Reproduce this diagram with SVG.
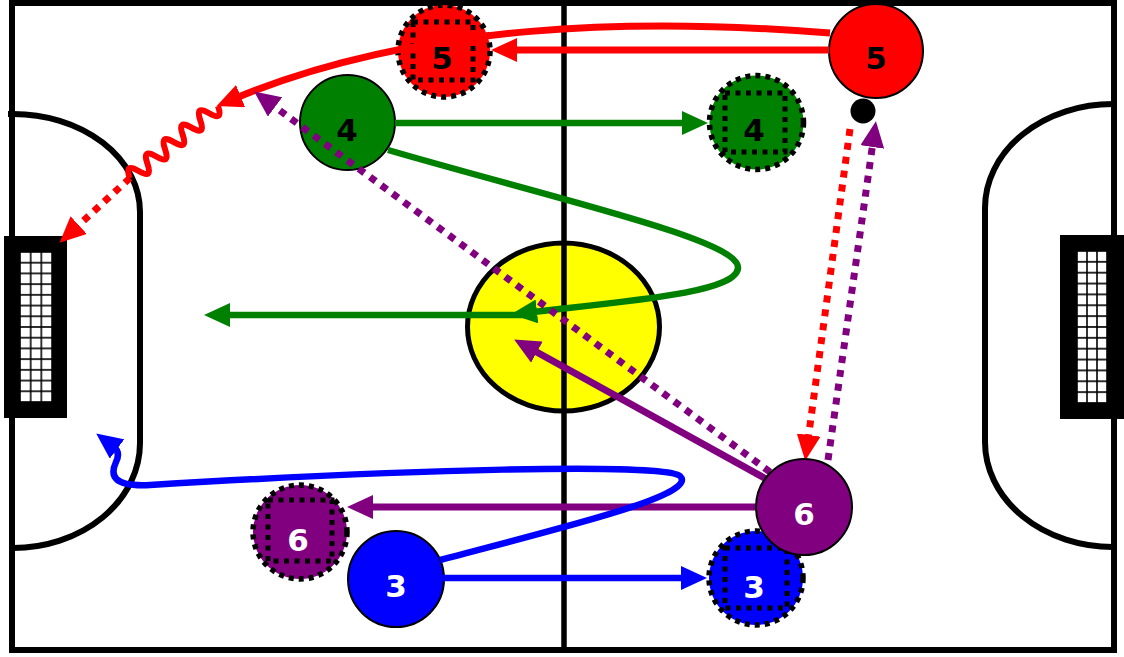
<svg xmlns="http://www.w3.org/2000/svg" width="1124" height="657" viewBox="0 0 1124 657">
<style>
.fl{fill:none;stroke:#000;stroke-width:6}
.lbl{font-family:"DejaVu Sans",sans-serif;font-weight:bold;font-size:31px;text-anchor:middle}
.dk{fill:#000}.wt{fill:#fff}
.solid{stroke:#000;stroke-width:2}
.ring{stroke:#000;stroke-width:5.5;stroke-dasharray:5 5}
.sq{fill:none;stroke:#000;stroke-width:5;stroke-dasharray:5 5.5}
.c{fill:none;stroke-linecap:butt}
.dot{stroke-dasharray:7 7}
</style>
<defs>
<marker id="ah-red" markerUnits="userSpaceOnUse" markerWidth="26" markerHeight="24" viewBox="0 0 26 24" refX="5" refY="12" orient="auto"><path d="M0,0 L26,12 L0,24 z" fill="#ff0000"/></marker>
<marker id="ah-green" markerUnits="userSpaceOnUse" markerWidth="26" markerHeight="24" viewBox="0 0 26 24" refX="5" refY="12" orient="auto"><path d="M0,0 L26,12 L0,24 z" fill="#008000"/></marker>
<marker id="ah-purple" markerUnits="userSpaceOnUse" markerWidth="26" markerHeight="24" viewBox="0 0 26 24" refX="5" refY="12" orient="auto"><path d="M0,0 L26,12 L0,24 z" fill="#800080"/></marker>
<marker id="ah-blue" markerUnits="userSpaceOnUse" markerWidth="26" markerHeight="24" viewBox="0 0 26 24" refX="5" refY="12" orient="auto"><path d="M0,0 L26,12 L0,24 z" fill="#0000ff"/></marker>
<pattern id="netL" patternUnits="userSpaceOnUse" x="20" y="252" width="10.667" height="10.714"><rect width="10.667" height="10.714" fill="#000"/><rect x="0.8" y="0.8" width="9.1" height="9.1" fill="#fff"/></pattern>
<pattern id="netR" patternUnits="userSpaceOnUse" x="1077" y="251" width="10" height="10.857"><rect width="10" height="10.857" fill="#000"/><rect x="0.8" y="0.8" width="8.4" height="9.2" fill="#fff"/></pattern>
</defs>
<rect width="1124" height="657" fill="#fff"/>
<g id="field">
<rect x="12" y="3" width="1102" height="647" class="fl"/>
<ellipse cx="563.5" cy="327" rx="96" ry="84" fill="#ffff00" stroke="#000" stroke-width="5"/>
<line x1="564" y1="3" x2="564" y2="650" stroke="#000" stroke-width="5.5"/>
<path class="fl" d="M8,114 L13,114 A127,98 0 0 1 140,212 L140,443 A127,105 0 0 1 13,548"/>
<path class="fl" d="M1113,104 A128,104 0 0 0 985,208 L985,442 A128,105 0 0 0 1113,547"/>
<rect x="4" y="236" width="63" height="182" fill="#000"/>
<rect x="20" y="252" width="32" height="150" fill="url(#netL)"/>
<rect x="1060" y="235" width="64" height="184" fill="#000"/>
<rect x="1077" y="251" width="30" height="152" fill="url(#netR)"/>
</g>
<g id="node-5b"><circle cx="444" cy="51" r="46" fill="#ff0000" class="ring"/><rect x="413" y="22" width="60" height="58" class="sq"/><text x="442" y="69" class="lbl dk">5</text></g>
<g id="node-4b"><circle cx="756.5" cy="122.5" r="47" fill="#008000" class="ring"/><rect x="725" y="93" width="60" height="59" class="sq"/><text x="754" y="141" class="lbl dk">4</text></g>
<g id="node-3b"><circle cx="756" cy="578" r="47" fill="#0000ff" class="ring"/><rect x="725" y="548" width="62" height="60" class="sq"/><text x="754" y="598" class="lbl wt">3</text></g>
<g id="node-6b"><circle cx="300" cy="532" r="47" fill="#800080" class="ring"/><rect x="268" y="500" width="64" height="61" class="sq"/><text x="298" y="551" class="lbl wt">6</text></g>
<g id="node-4"><circle cx="347.5" cy="122.5" r="47.5" fill="#008000" class="solid"/><text x="347" y="141" class="lbl dk">4</text></g>
<g id="node-3"><circle cx="396" cy="579" r="48" fill="#0000ff" class="solid"/><text x="396" y="597" class="lbl wt">3</text></g>
<g id="node-5"><circle cx="876" cy="51" r="47" fill="#ff0000" class="solid"/><text x="876" y="69" class="lbl dk">5</text></g>
<g id="ball"><circle cx="863" cy="111" r="12.5" fill="#000"/></g>
<g id="connectors">
<path class="c" stroke="#ff0000" stroke-width="7" d="M829,50 L512,50" marker-end="url(#ah-red)"/>
<path class="c" stroke="#ff0000" stroke-width="7" d="M830,33 C640,18 420,22 236,98" marker-end="url(#ah-red)"/>
<path class="c" stroke="#ff0000" stroke-width="6" transform="translate(218,106) rotate(140.7)" d="M0,0 q5.7,-16 11.4,0 t11.4,0 t11.4,0 t11.4,0 t11.4,0 t11.4,0 t11.4,0 t11.4,0 t11.4,0 t11.4,0"/>
<path class="c dot" stroke="#ff0000" stroke-width="7" d="M130,178 L75,228.5" marker-end="url(#ah-red)"/>
<path class="c" stroke="#008000" stroke-width="6.5" d="M395,123 L687,123" marker-end="url(#ah-green)"/>
<path class="c" stroke="#008000" stroke-width="6.5" d="M388,150 C560,200 740,240 738,268 C736,292 640,300 532,312" marker-end="url(#ah-green)"/>
<path class="c" stroke="#008000" stroke-width="6.5" d="M530,315 L225,315" marker-end="url(#ah-green)"/>
<path class="c dot" stroke="#800080" stroke-width="7" d="M770,472 L271,104" marker-end="url(#ah-purple)"/>
<path class="c" stroke="#800080" stroke-width="7" d="M768,480 L532.5,349.7" marker-end="url(#ah-purple)"/>
<path class="c" stroke="#800080" stroke-width="7" d="M757,507 L368,507" marker-end="url(#ah-purple)"/>
<path class="c dot" stroke="#800080" stroke-width="7" d="M828,460 L873,142" marker-end="url(#ah-purple)"/>
<path class="c dot" stroke="#ff0000" stroke-width="7" d="M850,129 L808,440" marker-end="url(#ah-red)"/>
<path class="c" stroke="#0000ff" stroke-width="6.5" d="M443,578 L686,578" marker-end="url(#ah-blue)"/>
<path class="c" stroke="#0000ff" stroke-width="6.5" d="M440,560 C560,528 700,495 680,476 C665,462 400,470 150,485 C112,487 110,475 116,462 Q121,452 113,446" marker-end="url(#ah-blue)"/>
</g>
<g id="node-6"><circle cx="804" cy="507" r="48" fill="#800080" class="solid"/><text x="804" y="525" class="lbl wt">6</text></g>
</svg>
